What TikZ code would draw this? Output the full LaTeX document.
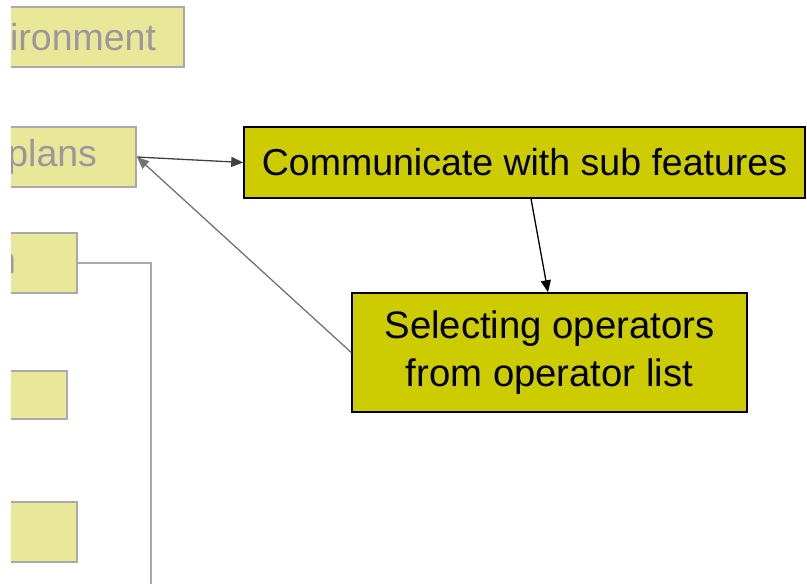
\documentclass[tikz,border=0pt]{standalone}
\usepackage{fontspec}
\setmainfont{Liberation Sans}
\usetikzlibrary{arrows.meta}

\definecolor{paleFill}{RGB}{232,232,152}
\definecolor{paleLine}{RGB}{170,170,170}
\definecolor{paleText}{RGB}{158,150,158}
\definecolor{boldFill}{RGB}{204,204,0}

\begin{document}
\begin{tikzpicture}[x=1pt,y=-1pt,>={Triangle[length=12pt,width=10pt]},
  oldbox/.style={rectangle,draw=paleLine,fill=paleFill,line width=2pt,text=paleText,
    font=\fontsize{37.5}{44}\selectfont,inner ysep=0pt,minimum height=60pt},
  newbox/.style={rectangle,draw=black,fill=boldFill,line width=1.5pt,
    font=\fontsize{37.5}{48}\selectfont,align=center,inner sep=0pt}]
  \useasboundingbox (0,0) rectangle (807,584);
  \begin{scope}
    \clip (11,0) rectangle (807,584);
    % faded boxes on the left, cut by the frame
    \node[oldbox,anchor=east,inner xsep=28pt] (env) at (185,37) {ironment};
    \node[oldbox,anchor=east,inner xsep=39pt] (plans) at (137,157) {plans};
    \node[oldbox,anchor=east,inner xsep=61pt] (n3) at (78,263) {n};
    \node[oldbox,anchor=east,minimum width=120pt,minimum height=48pt] (b4) at (68,395) {};
    \node[oldbox,anchor=east,minimum width=120pt] (b5) at (78,532) {};
    \coordinate (brk) at (151,590);
    \draw[paleLine,line width=2pt] (n3.east) -| (brk);
  \end{scope}
  % highlighted boxes
  \node[newbox,minimum width=561pt,minimum height=71pt] (comm) at (524.5,162.5) {Communicate with sub features};
  \node[newbox,minimum width=395pt,minimum height=119pt,font=\fontsize{38.3}{48}\selectfont] (sel) at (549.5,352.5) {Selecting operators\\from operator list};
  \draw[->,black!75,line width=1.3pt] (plans.east) -- (comm.west);
  \draw[->,black,line width=1.3pt] ([xshift=6.5pt]comm.south) -- ([xshift=-1.5pt]sel.north);
  \draw[->,black!55,line width=1.3pt] (sel.west) -- (plans.east);
\end{tikzpicture}
\end{document}
